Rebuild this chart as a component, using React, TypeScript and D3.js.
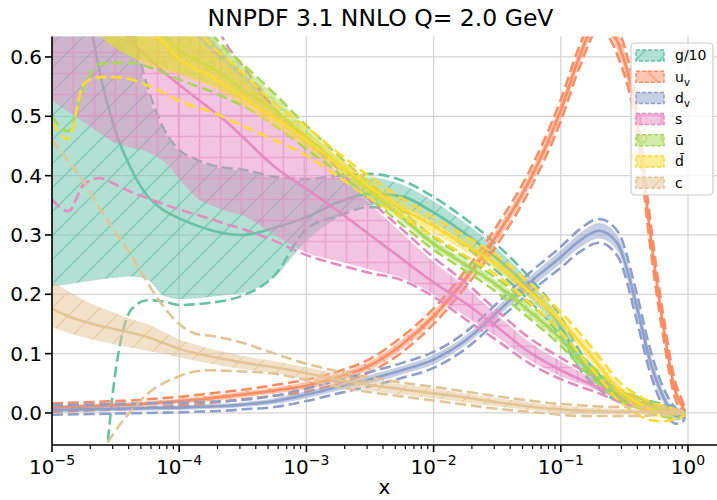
import React from "react";
import * as d3 from "d3";

// x sampling points
const xGrid = [1e-5, 1.34e-5, 1.78e-5, 2.37e-5, 3.16e-5, 4.22e-5, 5.62e-5, 7.5e-5, 1e-4, 1.33e-4, 1.78e-4, 2.37e-4, 3.16e-4, 5.62e-4, 1e-3, 1.78e-3, 3.16e-3, 5.62e-3, 1e-2, 1.78e-2, 3.16e-2, 5.62e-2, 0.1, 0.14, 0.2, 0.28, 0.4, 0.5, 0.63, 0.8, 0.9, 0.95];

// g/10
const gC = [1.05, 0.88, 0.72, 0.575, 0.475, 0.41, 0.366, 0.342, 0.328, 0.317, 0.308, 0.302, 0.3, 0.312, 0.33, 0.355, 0.37, 0.365, 0.338, 0.302, 0.26, 0.21, 0.145, 0.09, 0.052, 0.03, 0.018, 0.013, 0.009, 0.005, 0.003, 0.001];
const gHi = [1.2, 1.1, 1.0, 0.9, 0.8, 0.65, 0.54, 0.475, 0.44, 0.425, 0.416, 0.411, 0.408, 0.395, 0.392, 0.396, 0.397, 0.385, 0.357, 0.32, 0.277, 0.223, 0.157, 0.1, 0.06, 0.035, 0.022, 0.016, 0.012, 0.007, 0.004, 0.001];
const gLo = [0.213, 0.217, 0.221, 0.225, 0.228, 0.23, 0.225, 0.198, 0.192, 0.193, 0.196, 0.199, 0.202, 0.23, 0.29, 0.33, 0.35, 0.345, 0.32, 0.285, 0.244, 0.195, 0.133, 0.08, 0.044, 0.024, 0.013, 0.009, 0.005, 0.002, 0.0, 0.0];
const gDHi = [1.4, 1.3, 1.15, 0.95, 0.8, 0.655, 0.55, 0.48, 0.443, 0.428, 0.418, 0.413, 0.41, 0.398, 0.394, 0.4, 0.403, 0.392, 0.364, 0.327, 0.283, 0.229, 0.162, 0.105, 0.065, 0.039, 0.026, 0.02, 0.015, 0.01, 0.006, 0.002];
const gDLo = [-1.0, -0.8, -0.5, -0.2, 0.07, 0.175, 0.19, 0.188, 0.182, 0.183, 0.186, 0.19, 0.198, 0.232, 0.31, 0.332, 0.347, 0.34, 0.316, 0.28, 0.239, 0.19, 0.128, 0.075, 0.04, 0.02, 0.009, 0.005, 0.001, -0.003, -0.004, -0.002];

// u_v
const uvC = [0.009, 0.01, 0.011, 0.012, 0.013, 0.014, 0.016, 0.018, 0.02, 0.022, 0.025, 0.028, 0.031, 0.038, 0.046, 0.06, 0.08, 0.115, 0.163, 0.226, 0.3, 0.39, 0.51, 0.6, 0.665, 0.625, 0.49, 0.31, 0.155, 0.035, 0.012, 0.003];
const uvHi = [0.013, 0.014, 0.015, 0.016, 0.017, 0.018, 0.02, 0.022, 0.024, 0.027, 0.03, 0.033, 0.036, 0.043, 0.052, 0.066, 0.087, 0.123, 0.171, 0.235, 0.31, 0.4, 0.522, 0.612, 0.677, 0.64, 0.505, 0.325, 0.167, 0.045, 0.018, 0.006];
const uvLo = [0.005, 0.006, 0.007, 0.008, 0.009, 0.01, 0.012, 0.014, 0.016, 0.017, 0.02, 0.023, 0.026, 0.033, 0.04, 0.054, 0.073, 0.107, 0.155, 0.217, 0.29, 0.38, 0.498, 0.588, 0.653, 0.61, 0.475, 0.295, 0.143, 0.027, 0.007, 0.001];
const uvDHi = [0.016, 0.017, 0.018, 0.019, 0.02, 0.021, 0.023, 0.025, 0.027, 0.03, 0.033, 0.036, 0.039, 0.047, 0.056, 0.07, 0.091, 0.128, 0.176, 0.24, 0.316, 0.406, 0.528, 0.618, 0.683, 0.648, 0.512, 0.332, 0.173, 0.05, 0.021, 0.008];
const uvDLo = [0.002, 0.003, 0.004, 0.005, 0.006, 0.007, 0.009, 0.011, 0.013, 0.014, 0.017, 0.02, 0.023, 0.029, 0.036, 0.05, 0.069, 0.102, 0.15, 0.212, 0.284, 0.374, 0.492, 0.582, 0.647, 0.602, 0.468, 0.288, 0.137, 0.022, 0.004, 0.0];

// d_v
const dvC = [0.005, 0.0055, 0.006, 0.0065, 0.007, 0.0075, 0.008, 0.0085, 0.009, 0.01, 0.011, 0.012, 0.014, 0.02, 0.031, 0.044, 0.057, 0.072, 0.09, 0.122, 0.17, 0.219, 0.263, 0.29, 0.307, 0.285, 0.175, 0.09, 0.03, -0.005, -0.006, -0.002];
const dvHi = [0.009, 0.0095, 0.01, 0.0105, 0.011, 0.0115, 0.012, 0.0125, 0.013, 0.014, 0.015, 0.016, 0.018, 0.025, 0.037, 0.05, 0.064, 0.079, 0.098, 0.13, 0.179, 0.229, 0.274, 0.302, 0.32, 0.298, 0.19, 0.103, 0.04, 0.003, -0.001, 0.0];
const dvLo = [0.001, 0.0015, 0.002, 0.0025, 0.003, 0.0035, 0.004, 0.0045, 0.005, 0.006, 0.007, 0.008, 0.01, 0.015, 0.025, 0.038, 0.05, 0.065, 0.082, 0.114, 0.161, 0.209, 0.252, 0.278, 0.294, 0.272, 0.16, 0.077, 0.02, -0.013, -0.011, -0.004];
const dvDHi = [0.013, 0.0135, 0.014, 0.0145, 0.015, 0.0155, 0.016, 0.0165, 0.017, 0.018, 0.019, 0.02, 0.022, 0.029, 0.041, 0.055, 0.069, 0.084, 0.103, 0.136, 0.185, 0.235, 0.28, 0.309, 0.327, 0.306, 0.197, 0.11, 0.046, 0.008, 0.002, 0.001];
const dvDLo = [-0.003, -0.0025, -0.002, -0.0015, -0.001, -0.0005, 0.0, 0.0005, 0.001, 0.002, 0.003, 0.004, 0.006, 0.01, 0.02, 0.033, 0.045, 0.059, 0.076, 0.108, 0.155, 0.202, 0.245, 0.271, 0.287, 0.264, 0.152, 0.07, 0.013, -0.018, -0.016, -0.006];

// s
const sC = [0.85, 0.8, 0.75, 0.7, 0.66, 0.625, 0.6, 0.575, 0.553, 0.532, 0.512, 0.49, 0.465, 0.415, 0.378, 0.34, 0.3, 0.26, 0.22, 0.185, 0.145, 0.103, 0.072, 0.057, 0.042, 0.027, 0.015, 0.009, 0.005, 0.003, 0.002, 0.0];
const sHi = [1.0, 0.97, 0.93, 0.88, 0.83, 0.79, 0.76, 0.72, 0.69, 0.66, 0.63, 0.6, 0.575, 0.515, 0.462, 0.405, 0.352, 0.303, 0.255, 0.213, 0.165, 0.12, 0.087, 0.07, 0.053, 0.036, 0.02, 0.013, 0.008, 0.005, 0.003, 0.0];
const sLo = [0.527, 0.508, 0.49, 0.472, 0.455, 0.447, 0.44, 0.425, 0.395, 0.365, 0.35, 0.34, 0.333, 0.3, 0.27, 0.256, 0.242, 0.228, 0.2, 0.163, 0.128, 0.09, 0.062, 0.05, 0.037, 0.023, 0.011, 0.006, 0.003, 0.001, 0.0, 0.0];
const sDHi = [1.3, 1.2, 1.1, 1.0, 0.95, 0.9, 0.85, 0.8, 0.76, 0.72, 0.67, 0.62, 0.585, 0.513, 0.463, 0.41, 0.358, 0.31, 0.262, 0.22, 0.172, 0.127, 0.093, 0.075, 0.058, 0.04, 0.024, 0.016, 0.01, 0.006, 0.004, 0.0];
const sDLo = [0.36, 0.34, 0.385, 0.396, 0.385, 0.372, 0.362, 0.352, 0.343, 0.335, 0.327, 0.318, 0.31, 0.29, 0.266, 0.25, 0.236, 0.224, 0.196, 0.158, 0.122, 0.084, 0.057, 0.045, 0.033, 0.02, 0.009, 0.004, 0.001, -0.001, -0.001, 0.0];

// ubar
const ubC = [1.0, 0.95, 0.9, 0.86, 0.8, 0.74, 0.68, 0.64, 0.612, 0.595, 0.583, 0.565, 0.545, 0.51, 0.465, 0.42, 0.375, 0.33, 0.285, 0.25, 0.215, 0.172, 0.125, 0.09, 0.058, 0.033, 0.018, 0.01, 0.004, 0.0, -0.002, 0.0];
const ubHi = [1.3, 1.25, 1.2, 1.1, 1.0, 0.9, 0.82, 0.75, 0.7, 0.66, 0.635, 0.61, 0.585, 0.535, 0.48, 0.43, 0.383, 0.337, 0.292, 0.257, 0.222, 0.18, 0.133, 0.097, 0.065, 0.039, 0.024, 0.016, 0.009, 0.004, 0.002, 0.0];
const ubLo = [0.75, 0.72, 0.68, 0.64, 0.615, 0.6, 0.59, 0.58, 0.572, 0.563, 0.553, 0.54, 0.527, 0.495, 0.452, 0.41, 0.367, 0.323, 0.279, 0.244, 0.208, 0.164, 0.117, 0.083, 0.051, 0.027, 0.012, 0.004, -0.001, -0.004, -0.003, 0.0];
const ubDHi = [1.5, 1.4, 1.3, 1.2, 1.1, 1.0, 0.9, 0.8, 0.73, 0.675, 0.64, 0.612, 0.588, 0.538, 0.484, 0.434, 0.387, 0.341, 0.296, 0.261, 0.226, 0.184, 0.137, 0.1, 0.068, 0.042, 0.027, 0.019, 0.012, 0.006, 0.003, 0.0];
const ubDLo = [0.5, 0.475, 0.55, 0.588, 0.59, 0.59, 0.584, 0.574, 0.562, 0.552, 0.542, 0.53, 0.518, 0.485, 0.445, 0.405, 0.362, 0.318, 0.275, 0.24, 0.203, 0.16, 0.113, 0.08, 0.048, 0.024, 0.009, 0.0, -0.006, -0.009, -0.007, -0.002];

// dbar
const dbC = [1.0, 0.95, 0.9, 0.84, 0.77, 0.7, 0.655, 0.625, 0.597, 0.58, 0.568, 0.55, 0.532, 0.497, 0.46, 0.42, 0.38, 0.345, 0.315, 0.283, 0.25, 0.205, 0.155, 0.12, 0.08, 0.042, 0.018, 0.006, 0.002, 0.0, 0.0, 0.0];
const dbHi = [1.3, 1.25, 1.2, 1.1, 1.0, 0.9, 0.8, 0.73, 0.68, 0.64, 0.61, 0.588, 0.565, 0.515, 0.475, 0.432, 0.393, 0.357, 0.325, 0.293, 0.26, 0.215, 0.165, 0.13, 0.09, 0.05, 0.027, 0.016, 0.01, 0.005, 0.002, 0.0];
const dbLo = [0.75, 0.72, 0.68, 0.637, 0.615, 0.6, 0.587, 0.578, 0.57, 0.56, 0.55, 0.535, 0.518, 0.483, 0.447, 0.408, 0.368, 0.333, 0.303, 0.272, 0.24, 0.195, 0.145, 0.11, 0.07, 0.033, 0.008, -0.004, -0.007, -0.005, -0.003, 0.0];
const dbDHi = [1.5, 1.4, 1.3, 1.2, 1.1, 1.0, 0.88, 0.78, 0.71, 0.655, 0.62, 0.597, 0.573, 0.522, 0.482, 0.438, 0.398, 0.362, 0.33, 0.298, 0.265, 0.22, 0.17, 0.135, 0.095, 0.055, 0.03, 0.019, 0.012, 0.006, 0.003, 0.0];
const dbDLo = [0.49, 0.462, 0.555, 0.566, 0.566, 0.562, 0.552, 0.54, 0.526, 0.516, 0.508, 0.496, 0.484, 0.46, 0.434, 0.398, 0.362, 0.33, 0.298, 0.265, 0.232, 0.187, 0.137, 0.1, 0.06, 0.023, -0.002, -0.012, -0.014, -0.01, -0.006, -0.002];

// c
const cC = [0.176, 0.163, 0.154, 0.147, 0.141, 0.135, 0.128, 0.118, 0.108, 0.101, 0.095, 0.09, 0.085, 0.077, 0.067, 0.056, 0.047, 0.04, 0.033, 0.026, 0.018, 0.011, 0.006, 0.004, 0.003, 0.002, 0.002, 0.002, 0.002, 0.001, 0.001, 0.0];
const cHi = [0.222, 0.205, 0.19, 0.178, 0.168, 0.158, 0.15, 0.137, 0.124, 0.116, 0.108, 0.102, 0.096, 0.087, 0.077, 0.066, 0.056, 0.048, 0.041, 0.033, 0.025, 0.018, 0.012, 0.01, 0.008, 0.007, 0.006, 0.005, 0.005, 0.004, 0.002, 0.0];
const cLo = [0.145, 0.135, 0.127, 0.121, 0.116, 0.11, 0.105, 0.1, 0.094, 0.088, 0.083, 0.078, 0.074, 0.067, 0.058, 0.047, 0.038, 0.031, 0.025, 0.018, 0.011, 0.005, 0.0, -0.002, -0.002, -0.002, -0.002, -0.002, -0.001, -0.001, 0.0, 0.0];
const cDHi = [0.46, 0.425, 0.39, 0.345, 0.305, 0.265, 0.22, 0.18, 0.15, 0.134, 0.13, 0.125, 0.118, 0.1, 0.083, 0.07, 0.06, 0.051, 0.044, 0.036, 0.028, 0.021, 0.015, 0.013, 0.011, 0.01, 0.01, 0.01, 0.009, 0.006, 0.003, 0.0];
const cDLo = [-0.6, -0.4, -0.2, -0.08, -0.03, 0.004, 0.032, 0.05, 0.062, 0.07, 0.072, 0.071, 0.07, 0.066, 0.056, 0.044, 0.035, 0.028, 0.021, 0.014, 0.007, 0.002, -0.003, -0.005, -0.005, -0.005, -0.005, -0.004, -0.003, -0.002, -0.001, 0.0];

const xTicks = [1e-5, 1e-4, 1e-3, 1e-2, 1e-1, 1];
const xTickExp = ["\u22125", "\u22124", "\u22123", "\u22122", "\u22121", "0"];
const yTicks = [0, 0.1, 0.2, 0.3, 0.4, 0.5, 0.6];
const yTickLabels = ["0.0", "0.1", "0.2", "0.3", "0.4", "0.5", "0.6"];

const pdfs = [
  { key: "g", color: "#66c2a5", hatch: "fwd", c: gC, hi: gHi, lo: gLo, dhi: gDHi, dlo: gDLo },
  { key: "uv", color: "#fc8d62", hatch: "back", c: uvC, hi: uvHi, lo: uvLo, dhi: uvDHi, dlo: uvDLo },
  { key: "dv", color: "#8da0cb", hatch: "", c: dvC, hi: dvHi, lo: dvLo, dhi: dvDHi, dlo: dvDLo },
  { key: "s", color: "#e78ac3", hatch: "plus", c: sC, hi: sHi, lo: sLo, dhi: sDHi, dlo: sDLo },
  { key: "ub", color: "#a6d854", hatch: "circ", c: ubC, hi: ubHi, lo: ubLo, dhi: ubDHi, dlo: ubDLo },
  { key: "db", color: "#ffd92f", hatch: "", c: dbC, hi: dbHi, lo: dbLo, dhi: dbDHi, dlo: dbDLo },
  { key: "c", color: "#e5c494", hatch: "fwd", c: cC, hi: cHi, lo: cLo, dhi: cDHi, dlo: cDLo },
];

const FONT = "DejaVu Sans, sans-serif";

function Label({ k }: { k: string }) {
  if (k === "g") return <tspan>g/10</tspan>;
  if (k === "uv") return (<><tspan>u</tspan><tspan fontSize={10} dy={4}>v</tspan></>);
  if (k === "dv") return (<><tspan>d</tspan><tspan fontSize={10} dy={4}>v</tspan></>);
  if (k === "s") return <tspan>s</tspan>;
  if (k === "ub") return <tspan>{"\u016b"}</tspan>;
  if (k === "db") return <tspan>{"d\u0304"}</tspan>;
  return <tspan>c</tspan>;
}

export default function App() {
  const W = 717, H = 500;
  const L = 52, R = 717, T = 36.5, B = 445;
  const x = d3.scaleLog().domain([1e-5, Math.pow(10, 0.228)]).range([L, R]);
  const y = d3.scaleLinear().domain([-0.054, 0.6345]).range([B, T]);

  const line = (vals: number[]) =>
    d3.line<number>().x((_, i) => x(xGrid[i])).y((v) => y(v)).curve(d3.curveMonotoneX)(vals) || "";
  const area = (lo: number[], hi: number[]) =>
    d3.area<number>().x((_, i) => x(xGrid[i])).y0((_, i) => y(lo[i])).y1((_, i) => y(hi[i])).curve(d3.curveMonotoneX)(lo) || "";

  const minor: number[] = [];
  for (let e = -5; e <= 0; e++) for (let m = 2; m <= 9; m++) { const v = m * Math.pow(10, e); if (v < Math.pow(10, 0.228)) minor.push(v); }

  const hatchDefs = pdfs.filter((p) => p.hatch).map((p) => {
    const id = `h-${p.key}`;
    const st = { stroke: p.color, strokeWidth: 1.6, strokeOpacity: 0.6, fill: "none" } as any;
    if (p.hatch === "fwd")
      return (<pattern key={id} id={id} patternUnits="userSpaceOnUse" width={24} height={24}>
        <path d="M-6,6L6,-6M0,24L24,0M18,30L30,18" {...st} /></pattern>);
    if (p.hatch === "back")
      return (<pattern key={id} id={id} patternUnits="userSpaceOnUse" width={24} height={24}>
        <path d="M-6,18L6,30M0,0L24,24M18,-6L30,6" {...st} /></pattern>);
    if (p.hatch === "plus")
      return (<pattern key={id} id={id} patternUnits="userSpaceOnUse" width={21} height={21}>
        <path d="M10.5,0V21M0,10.5H21" {...st} /></pattern>);
    return (<pattern key={id} id={id} patternUnits="userSpaceOnUse" width={24} height={24}>
      <circle cx={6} cy={6} r={4.6} {...st} /><circle cx={18} cy={18} r={4.6} {...st} /></pattern>);
  });

  const dash = "11,4.8";
  const lw = 2.6;

  return (
    <div style={{ position: "absolute", left: 0, top: 0 }}>
      <svg width={W} height={H} style={{ display: "block", background: "#fff" }} fontFamily={FONT}>
        <defs>
          <clipPath id="plotclip"><rect x={L} y={T} width={R - L} height={B - T} /></clipPath>
          {hatchDefs}
        </defs>
        {/* grid */}
        <g stroke="#d4d4d4" strokeWidth={1.3}>
          {xTicks.map((t, i) => <line key={"gx" + i} x1={x(t)} x2={x(t)} y1={T} y2={B} />)}
          {yTicks.map((t, i) => <line key={"gy" + i} x1={L} x2={R} y1={y(t)} y2={y(t)} />)}
        </g>
        <g clipPath="url(#plotclip)">
          {pdfs.map((p) => {
            const a = area(p.lo, p.hi);
            return (
              <g key={p.key}>
                <path d={a} fill={p.color} fillOpacity={0.5} stroke="none" />
                {p.hatch && <path d={a} fill={`url(#h-${p.key})`} stroke="none" />}
                <path d={line(p.c)} fill="none" stroke={p.color} strokeWidth={lw} />
                <path d={line(p.dhi)} fill="none" stroke={p.color} strokeWidth={lw} strokeDasharray={dash} />
                <path d={line(p.dlo)} fill="none" stroke={p.color} strokeWidth={lw} strokeDasharray={dash} />
              </g>
            );
          })}
        </g>
        {/* axes */}
        <line x1={L} x2={L} y1={T} y2={B} stroke="#000" strokeWidth={1.6} />
        <line x1={L} x2={R} y1={B} y2={B} stroke="#000" strokeWidth={1.6} />
        {yTicks.map((t, i) => (
          <g key={"yt" + i}>
            <line x1={L - 7} x2={L} y1={y(t)} y2={y(t)} stroke="#000" strokeWidth={1.6} />
            <text x={L - 10} y={y(t)} dy="0.35em" textAnchor="end" fontSize={20} fill="#000">{yTickLabels[i]}</text>
          </g>
        ))}
        {minor.map((t, i) => <line key={"mt" + i} x1={x(t)} x2={x(t)} y1={B} y2={B + 4} stroke="#000" strokeWidth={1.2} />)}
        {xTicks.map((t, i) => (
          <g key={"xt" + i}>
            <line x1={x(t)} x2={x(t)} y1={B} y2={B + 7} stroke="#000" strokeWidth={1.6} />
            <text x={x(t)} y={474} textAnchor="middle" fontSize={20} fill="#000">
              <tspan>10</tspan><tspan fontSize={14} dy={-9}>{xTickExp[i]}</tspan>
            </text>
          </g>
        ))}
        <text x={(L + R) / 2} y={494} textAnchor="middle" fontSize={20} fill="#000">x</text>
        <text x={(L + R) / 2 - 4} y={26} textAnchor="middle" fontSize={23.5} fill="#000">NNPDF 3.1 NNLO Q= 2.0 GeV</text>
        {/* legend */}
        <g>
          <rect x={631} y={43} width={82} height={152} rx={4} fill="#fff" fillOpacity={0.8} stroke="#cccccc" strokeWidth={1.2} />
          {pdfs.map((p, i) => {
            const cy = 55.5 + i * 21.2;
            return (
              <g key={"lg" + p.key}>
                <rect x={636} y={cy - 5.5} width={28} height={11} fill={p.color} fillOpacity={0.5} />
                {p.hatch && <rect x={636} y={cy - 5.5} width={28} height={11} fill={`url(#h-${p.key})`} />}
                <rect x={636} y={cy - 5.5} width={28} height={11} fill="none" stroke={p.color} strokeWidth={1.5} strokeDasharray="4,2" />
                <text x={675} y={cy} dy="0.35em" fontSize={14} fill="#000"><Label k={p.key} /></text>
              </g>
            );
          })}
        </g>
      </svg>
    </div>
  );
}
